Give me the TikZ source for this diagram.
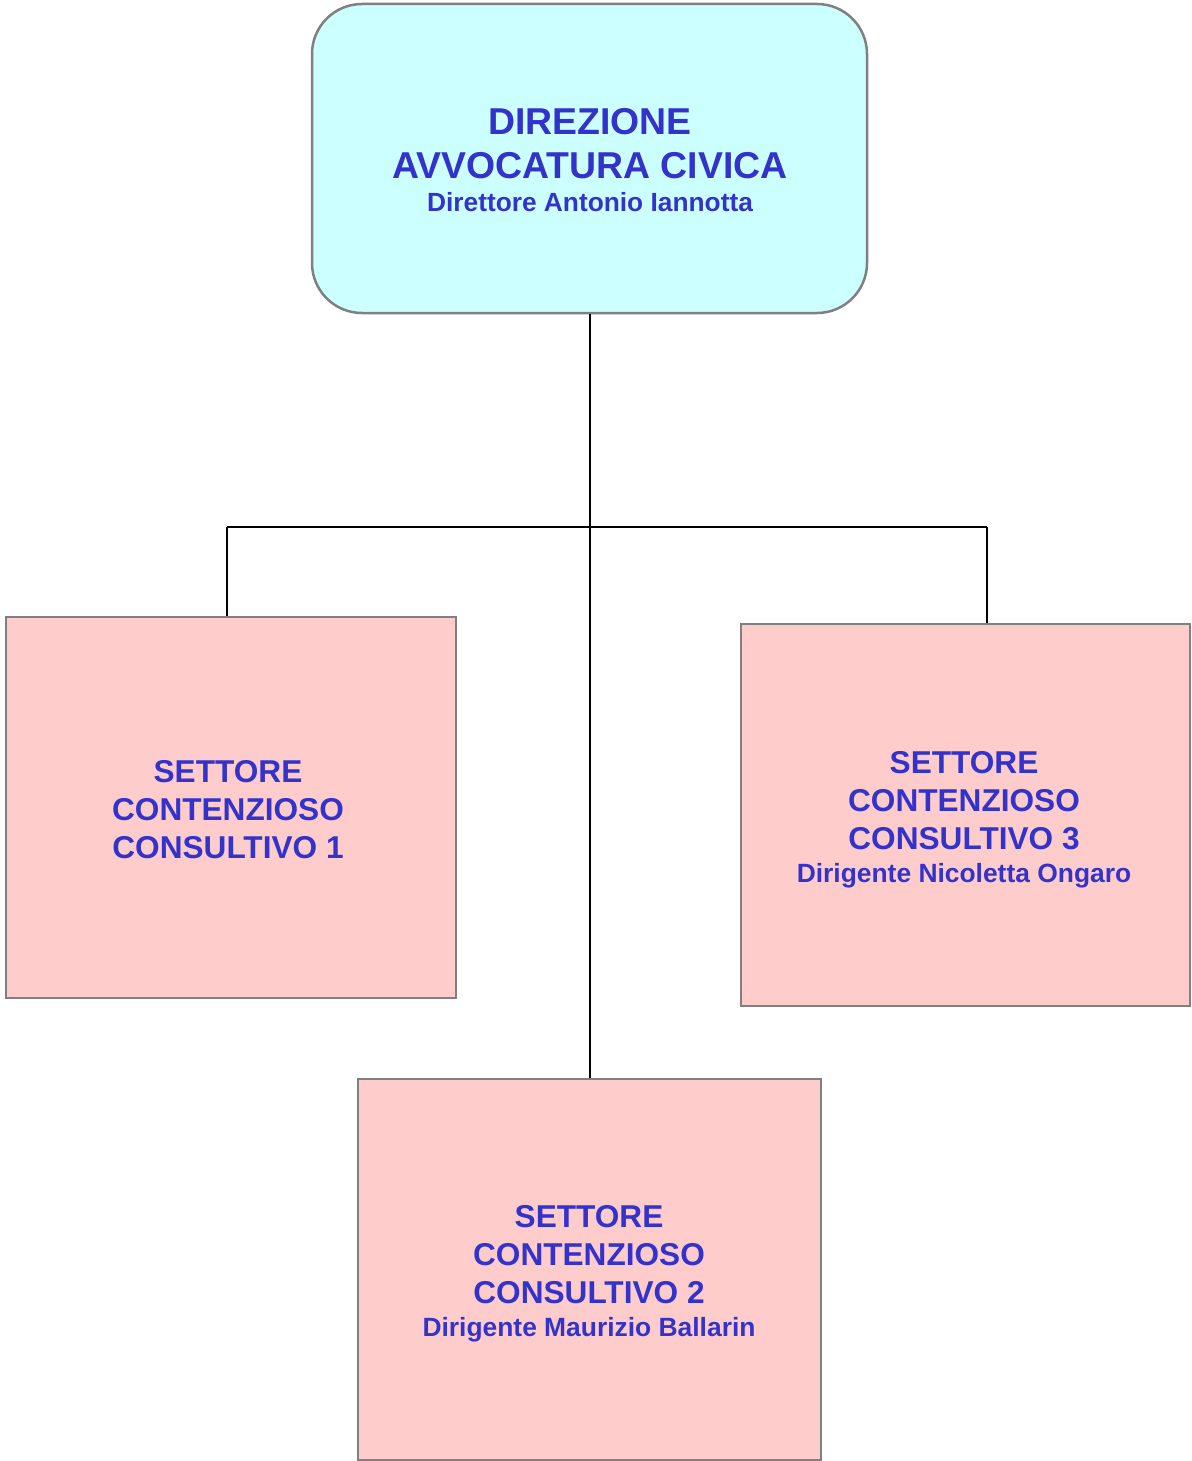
\documentclass[tikz,border=0pt]{standalone}
\usepackage{fontspec}
\setmainfont{Liberation Sans}
\definecolor{cyanfill}{HTML}{CCFFFF}
\definecolor{pinkfill}{HTML}{FFCCCC}
\definecolor{boxline}{HTML}{808080}
\definecolor{textblue}{HTML}{3333CC}
\begin{document}
\begin{tikzpicture}[x=1pt,y=-1pt,
  dirbox/.style={draw=boxline, line width=2.5pt, fill=cyanfill, rounded corners=50pt, inner sep=0pt},
  secbox/.style={draw=boxline, line width=2.5pt, fill=pinkfill, inner sep=0pt},
  dirtext/.style={text=textblue, align=center, inner sep=0pt, font=\bfseries\fontsize{37.4}{44}\selectfont},
  sectext/.style={text=textblue, align=center, inner sep=0pt, font=\bfseries\fontsize{31.6}{38}\selectfont},
  subfont/.style={},
  conn/.style={draw=black, line width=2pt}]
\useasboundingbox (0,0) rectangle (1191,1461);
% boxes
\node[dirbox, minimum width=555pt, minimum height=309pt] (dir) at (589.5,158.5) {};
\node[secbox, minimum width=450pt, minimum height=381pt] (sec1) at (231,807.5) {};
\node[secbox, minimum width=449pt, minimum height=382pt] (sec3) at (965.5,815) {};
\node[secbox, minimum width=463pt, minimum height=381pt] (sec2) at (589.5,1269.5) {};
% connectors
\coordinate (lj) at (227,527);
\coordinate (rj) at (987,527);
\draw[conn] (dir.south) -- (sec2.north);
\draw[conn] (lj) -- (rj);
\draw[conn] (lj) -- (lj |- sec1.north);
\draw[conn] (rj) -- (rj |- sec3.north);
% texts
\node[dirtext] (dirt) at (590,160.5) {DIREZIONE\\AVVOCATURA CIVICA\\[-11pt]{\fontsize{26.3}{30}\selectfont Direttore Antonio Iannotta}};
\node[sectext] (sec1t) at (228,810) {SETTORE\\CONTENZIOSO\\CONSULTIVO 1};
\node[sectext] (sec3t) at (964,820) {SETTORE\\CONTENZIOSO\\CONSULTIVO 3\\[-5pt]{\fontsize{26.4}{30}\selectfont Dirigente Nicoletta Ongaro}};
\node[sectext] (sec2t) at (589,1274) {SETTORE\\CONTENZIOSO\\CONSULTIVO 2\\[-5pt]{\fontsize{26.4}{30}\selectfont Dirigente Maurizio Ballarin}};
\end{tikzpicture}
\end{document}
